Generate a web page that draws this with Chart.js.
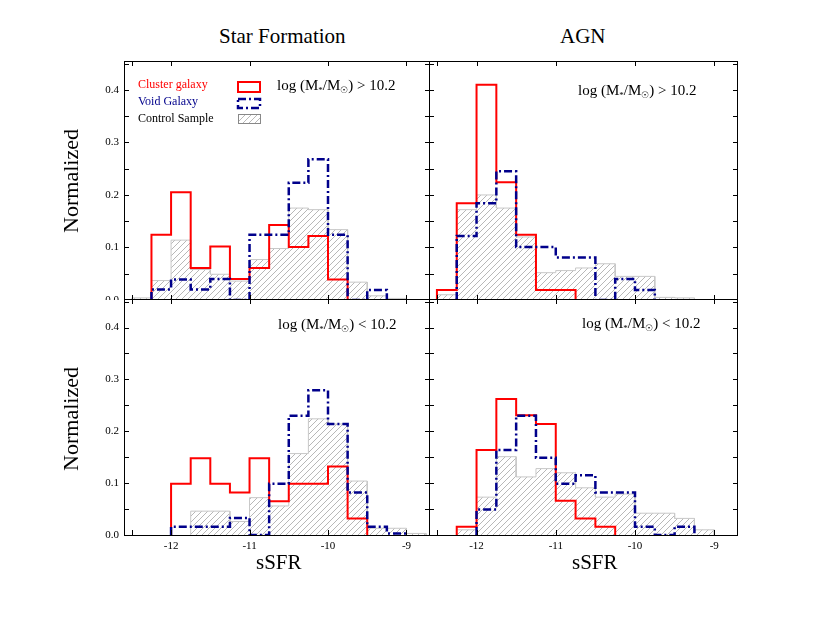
<!DOCTYPE html>
<html><head><meta charset="utf-8">
<script src="https://cdn.jsdelivr.net/npm/chart.js@4"></script>
<style>
body{margin:0;width:830px;height:637px;background:#fff;position:relative;overflow:hidden;font-family:"Liberation Serif","DejaVu Serif",serif}
canvas{position:absolute}
.t{position:absolute;white-space:nowrap;color:#000}
sub{font-size:60%;vertical-align:-0.35em}
</style></head><body>
<canvas id="c0"></canvas><canvas id="c1"></canvas><canvas id="c2"></canvas><canvas id="c3"></canvas>
<div class="t" style="left:219px;top:24px;font-size:21px">Star Formation</div>
<div class="t" style="left:560px;top:24px;font-size:21px">AGN</div>
<div class="t" style="left:44px;top:168px;font-size:22px;transform:rotate(-90deg);transform-origin:center;width:110px;text-align:center;margin-left:-28px">Normalized</div>
<div class="t" style="left:44px;top:406px;font-size:22px;transform:rotate(-90deg);transform-origin:center;width:110px;text-align:center;margin-left:-28px">Normalized</div>
<div class="t" style="left:256px;top:550px;font-size:21px">sSFR</div>
<div class="t" style="left:572px;top:550px;font-size:21px">sSFR</div>
<div class="t" style="left:138px;top:77px;font-size:12px;color:#f00">Cluster galaxy</div>
<div class="t" style="left:138px;top:94px;font-size:12px;color:#00008b">Void Galaxy</div>
<div class="t" style="left:138px;top:111px;font-size:12px">Control Sample</div>
<div class="t" style="left:277px;top:77px;font-size:15px">log (M<sub>*</sub>/M<sub>☉</sub>) &gt; 10.2</div>
<div class="t" style="left:578px;top:82px;font-size:15px">log (M<sub>*</sub>/M<sub>☉</sub>) &gt; 10.2</div>
<div class="t" style="left:278px;top:316px;font-size:15px">log (M<sub>*</sub>/M<sub>☉</sub>) &lt; 10.2</div>
<div class="t" style="left:582px;top:315px;font-size:15px">log (M<sub>*</sub>/M<sub>☉</sub>) &lt; 10.2</div>
<canvas id="leg" width="40" height="50" style="left:234px;top:78px"></canvas>
<script>
const binStart = -12.5, binWidth = 0.25;
const xTicks = [-12, -11, -10, -9];
const yTicks = [0.0, 0.1, 0.2, 0.3, 0.4];
// Star formation, high mass
const tlRed  = [0,.124,.205,.061,.102,.040,.061,.143,.101,.122,.039,0,0,0];
const tlVoid = [0,.020,.039,.020,.040,0,.124,.124,.223,.268,.124,0,.019,0];
const tlCtrl = [.004,.037,.114,.058,.049,.036,.077,.098,.175,.172,.134,.034,.008,.003];
// AGN, high mass
const trRed  = [.019,.184,.41,.224,.124,.019,.019,0,0,0,0,0,0,0];
const trVoid = [0,.122,.184,.245,.101,.101,.081,.081,0,.040,.019,0,0];
const trCtrl = [.01,.172,.200,.175,.12,.052,.056,.061,.069,.045,.045,.005,.004];
// Star formation, low mass
const blRed  = [0,0,.099,.148,.099,.082,.148,.065,.099,.099,.132,.032,0,0,0];
const blVoid = [0,0,.016,.016,.016,.033,0,.099,.230,.279,.214,.082,.016,.003,0];
const blCtrl = [0,0,0,.046,.046,.026,.072,.056,.157,.224,.214,.104,.013,.013,.003];
// AGN, low mass
const brRed  = [0,.016,.164,.262,.231,.214,.066,.032,.016,0,0,0,0,0];
const brVoid = [0,0,.049,.164,.230,.149,.099,.115,.082,.082,.016,0,.016,0];
const brCtrl = [0,.01,.073,.151,.112,.128,.120,.091,.073,.079,.042,.042,.032,.01];

function steps(vals){
  let first = vals.findIndex(v=>v>0), last = vals.length-1;
  while(last>0 && vals[last]===0) last--;
  const pts=[];
  for(let i=first;i<=last;i++){
    const l=binStart+i*binWidth, r=l+binWidth;
    pts.push({x:l,y:vals[i]},{x:r,y:vals[i]});
  }
  pts.unshift({x:pts[0].x,y:0}); pts.push({x:pts[pts.length-1].x,y:0});
  return pts;
}
function hatch(){
  const c=document.createElement('canvas');c.width=6;c.height=6;
  const g=c.getContext('2d');g.strokeStyle='#9a9a9a';g.lineWidth=0.7;
  g.beginPath();g.moveTo(0,6);g.lineTo(6,0);g.moveTo(-3,3);g.lineTo(3,-3);g.moveTo(3,9);g.lineTo(9,3);g.stroke();
  return g.createPattern(c,'repeat');
}
const frame={id:'frame',afterDraw(ch,args,o){
  const a=ch.chartArea,g=ch.ctx,xs=ch.scales.x,ys=ch.scales.y;
  g.save();g.strokeStyle='#000';g.lineWidth=1;
  g.strokeRect(a.left+0.5,a.top+0.5,a.right-a.left-1,a.bottom-a.top);
  g.beginPath();
  [-12.5,-12,-11,-10,-9].forEach(v=>{const p=Math.round(xs.getPixelForValue(v))+0.5;
    g.moveTo(p,a.bottom);g.lineTo(p,a.bottom-5);g.moveTo(p,a.top);g.lineTo(p,a.top+5);});
  for(let v=0;v<=0.45;v+=0.05){const p=Math.round(ys.getPixelForValue(v))+0.5;
    g.moveTo(a.left,p);g.lineTo(a.left+5,p);g.moveTo(a.right,p);g.lineTo(a.right-5,p);}
  g.stroke();
  g.fillStyle='#000';g.font='11px "Liberation Serif"';
  if(ch.options.showX){g.textAlign='center';g.textBaseline='top';
    xTicks.forEach(v=>g.fillText(String(v),xs.getPixelForValue(v),a.bottom+6));}
  if(ch.options.showY){g.textAlign='right';g.textBaseline='middle';
    yTicks.forEach(v=>g.fillText(v.toFixed(1),a.left-5,ys.getPixelForValue(v)));}
  g.restore();
}};
function make(id,pos,pad,red,vd,ctrl,showX,showY){
  const el=document.getElementById(id);
  el.width=pos[2];el.height=pos[3];
  el.style.left=pos[0]+'px';el.style.top=pos[1]+'px';el.style.width=pos[2]+'px';el.style.height=pos[3]+'px';
  new Chart(el,{type:'line',
    data:{datasets:[
      {data:steps(red),borderColor:'#ff0000',borderWidth:2,pointRadius:0,fill:false,order:1},
      {data:steps(vd),borderColor:'#00008b',borderWidth:2.5,borderDash:[8,3,2,3],pointRadius:0,fill:false,order:0},
      {data:steps(ctrl),borderColor:'#c8c8c8',borderWidth:1,pointRadius:0,fill:'origin',backgroundColor:hatch(),order:2}
    ]},
    options:{responsive:false,animation:false,maintainAspectRatio:false,showX,showY,
      layout:{padding:{left:pad[0],top:0,right:0,bottom:pad[1]}},
      plugins:{legend:{display:false},tooltip:{enabled:false}},
      elements:{line:{tension:0}},
      scales:{
        x:{type:'linear',min:-12.6,max:-8.7,display:false},
        y:{min:0,max:0.455,display:false}
      }},
    plugins:[frame]});
}
make('c0',[60,61,370,239],[64,0],tlRed,tlVoid,tlCtrl,false,true);
make('c1',[429,61,309,239],[0,0],trRed,trVoid,trCtrl,false,false);
make('c2',[60,299,370,258],[64,22],blRed,blVoid,blCtrl,true,true);
make('c3',[429,299,309,258],[0,22],brRed,brVoid,brCtrl,true,false);
const lg=document.getElementById('leg').getContext('2d');
lg.strokeStyle='#f00';lg.lineWidth=2;lg.strokeRect(4,4,22,10);
lg.strokeStyle='#00008b';lg.lineWidth=2.5;lg.setLineDash([8,3,2,3]);lg.strokeRect(4,21,22,9);
lg.setLineDash([]);lg.fillStyle=hatch();lg.fillRect(4,36,22,9);lg.strokeStyle='#888';lg.lineWidth=1;lg.strokeRect(4.5,36.5,22,9);
</script></body></html>
